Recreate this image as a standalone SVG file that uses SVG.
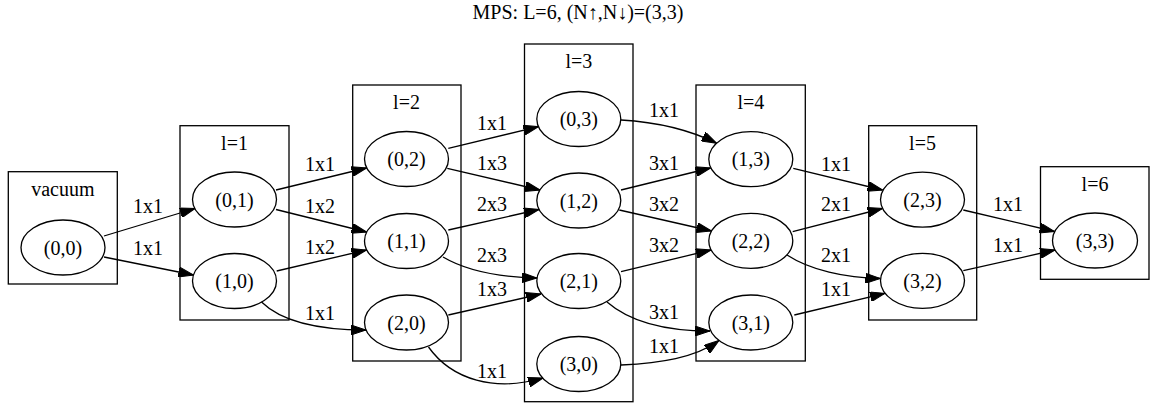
<svg xmlns="http://www.w3.org/2000/svg" width="1150" height="406" viewBox="0 0 1150 406">
<style>
text{font-family:"Liberation Serif","Times New Roman",serif;font-size:20px;fill:#000;text-anchor:middle}
.cl{fill:none;stroke:#000;stroke-width:1.3}
.nd{fill:none;stroke:#000;stroke-width:1.3}
.ed path{fill:none;stroke:#000;stroke-width:1.3;marker-end:url(#arr)}
</style>
<defs>
<marker id="arr" viewBox="0 0 15 10" refX="15" refY="5" markerWidth="15" markerHeight="10" markerUnits="userSpaceOnUse" orient="auto">
<path d="M0,0 L15,5 L0,10 Z" fill="#000" stroke="#000" stroke-width="1"/>
</marker>
</defs>
<rect width="1150" height="406" fill="#fff"/>
<text x="578" y="19">MPS: L=6, (N↑,N↓)=(3,3)</text>

<g id="cluster_vacuum"><rect class="cl" x="8.3" y="171.7" width="109" height="112.3"/><text x="62.8" y="196">vacuum</text></g>
<g id="cluster_l1"><rect class="cl" x="180" y="125.7" width="109" height="194.3"/><text x="234.5" y="149.5">l=1</text></g>
<g id="cluster_l2"><rect class="cl" x="352.7" y="85" width="108.3" height="276"/><text x="406.5" y="109">l=2</text></g>
<g id="cluster_l3"><rect class="cl" x="524.5" y="44" width="108.5" height="357.7"/><text x="578.8" y="68">l=3</text></g>
<g id="cluster_l4"><rect class="cl" x="696" y="85" width="109.3" height="276"/><text x="750.8" y="109">l=4</text></g>
<g id="cluster_l5"><rect class="cl" x="868.7" y="125.7" width="108" height="194.3"/><text x="922.5" y="149.5">l=5</text></g>
<g id="cluster_l6"><rect class="cl" x="1040.5" y="166.7" width="108.5" height="112.6"/><text x="1095" y="190.5">l=6</text></g>

<g id="n00"><ellipse class="nd" cx="63" cy="247.5" rx="42" ry="27.5"/><text x="63" y="254.5">(0,0)</text></g>
<g id="n01"><ellipse class="nd" cx="234.5" cy="199.5" rx="42" ry="27.5"/><text x="234.5" y="206.5">(0,1)</text></g>
<g id="n10"><ellipse class="nd" cx="234.5" cy="281" rx="42" ry="27.5"/><text x="234.5" y="288">(1,0)</text></g>
<g id="n02"><ellipse class="nd" cx="406.5" cy="159" rx="42" ry="27.5"/><text x="406.5" y="166">(0,2)</text></g>
<g id="n11"><ellipse class="nd" cx="406.5" cy="241" rx="42" ry="27.5"/><text x="406.5" y="248">(1,1)</text></g>
<g id="n20"><ellipse class="nd" cx="406.5" cy="322.5" rx="42" ry="27.5"/><text x="406.5" y="329.5">(2,0)</text></g>
<g id="n03"><ellipse class="nd" cx="578.8" cy="119" rx="42" ry="27.5"/><text x="578.8" y="126">(0,3)</text></g>
<g id="n12"><ellipse class="nd" cx="578.8" cy="200.5" rx="42" ry="27.5"/><text x="578.8" y="207.5">(1,2)</text></g>
<g id="n21"><ellipse class="nd" cx="578.8" cy="281" rx="42" ry="27.5"/><text x="578.8" y="288">(2,1)</text></g>
<g id="n30"><ellipse class="nd" cx="578.8" cy="364" rx="42" ry="27.5"/><text x="578.8" y="371">(3,0)</text></g>
<g id="n13"><ellipse class="nd" cx="750.8" cy="159.2" rx="42" ry="27.5"/><text x="750.8" y="166.2">(1,3)</text></g>
<g id="n22"><ellipse class="nd" cx="750.8" cy="240.8" rx="42" ry="27.5"/><text x="750.8" y="247.8">(2,2)</text></g>
<g id="n31"><ellipse class="nd" cx="750.8" cy="322.5" rx="42" ry="27.5"/><text x="750.8" y="329.5">(3,1)</text></g>
<g id="n23"><ellipse class="nd" cx="922.5" cy="199.7" rx="42" ry="27.5"/><text x="922.5" y="206.7">(2,3)</text></g>
<g id="n32"><ellipse class="nd" cx="922.5" cy="280.8" rx="42" ry="27.5"/><text x="922.5" y="287.8">(3,2)</text></g>
<g id="n33"><ellipse class="nd" cx="1095" cy="240.5" rx="42.5" ry="27.5"/><text x="1095" y="247.5">(3,3)</text></g>

<g id="edges" class="ed">
<path d="M104,236 L195,208.5"/>
<path d="M104,257 L193.5,275"/>
<path d="M276,190 L366.5,168"/>
<path d="M276,209.5 L366.5,232"/>
<path d="M276.7,271 L366.5,250"/>
<path d="M261.5,302 C282,322 320,330 366,330"/>
<path d="M448.3,148.3 L538.5,126.7"/>
<path d="M447.3,168.3 L540,190"/>
<path d="M448.3,230 L539,209.5"/>
<path d="M443,257 C465,270 495,277 537,278"/>
<path d="M448.3,315 L541,294"/>
<path d="M428.5,347 C452,380 495,392 543,378"/>
<path d="M621,120 C655,122 690,130 716.7,143.3"/>
<path d="M621,190 L710.5,168"/>
<path d="M619.3,210 L711.5,231"/>
<path d="M621,271.7 L711,250"/>
<path d="M607,302 C630,322 665,331 710,331"/>
<path d="M621,365 C660,363 695,358 719,340.5"/>
<path d="M793.3,168.3 L882.5,190"/>
<path d="M792.7,231.7 L882.5,208.5"/>
<path d="M787,255 C810,270 845,278 880.5,278.5"/>
<path d="M794.3,315 L885,293.3"/>
<path d="M963.3,210 L1054.5,231.5"/>
<path d="M963.3,270.7 L1055,250"/>
</g>
<g id="edge-labels">
<text x="148" y="213">1x1</text>
<text x="148" y="255">1x1</text>
<text x="320" y="171">1x1</text>
<text x="320" y="213">1x2</text>
<text x="320" y="254">1x2</text>
<text x="320" y="320">1x1</text>
<text x="492" y="130">1x1</text>
<text x="492" y="170">1x3</text>
<text x="492" y="211">2x3</text>
<text x="492" y="262">2x3</text>
<text x="492" y="296">1x3</text>
<text x="492" y="378">1x1</text>
<text x="664" y="117">1x1</text>
<text x="664" y="170">3x1</text>
<text x="664" y="211">3x2</text>
<text x="664" y="252">3x2</text>
<text x="664" y="319">3x1</text>
<text x="664" y="353">1x1</text>
<text x="836" y="171">1x1</text>
<text x="836" y="211">2x1</text>
<text x="836" y="262">2x1</text>
<text x="836" y="296">1x1</text>
<text x="1008" y="211">1x1</text>
<text x="1008" y="252">1x1</text>
</g>
</svg>
